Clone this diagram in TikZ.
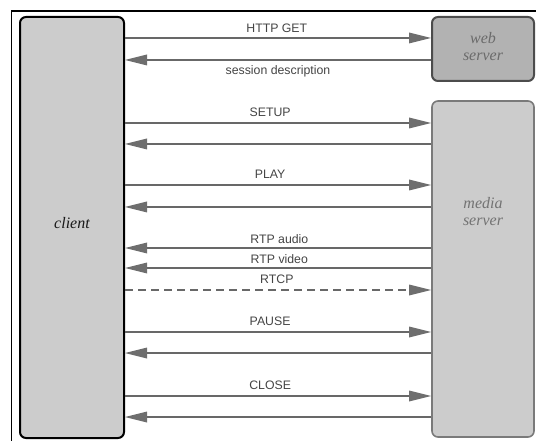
\documentclass[tikz,border=0pt]{standalone}
\usepackage{fontspec}
\setmainfont{Liberation Serif}
\setsansfont{Liberation Sans}
\usetikzlibrary{arrows.meta}
\definecolor{wire}{HTML}{686868}
\definecolor{tip}{HTML}{6E6E6E}
\definecolor{lbl}{HTML}{444444}
\begin{document}
\begin{tikzpicture}[x=1pt,y=-1pt,
  actor/.style={rounded corners=6pt, inner sep=0pt, font=\rmfamily\itshape\fontsize{16}{17}\selectfont, align=center},
  msg/.style={draw=wire, line width=2pt,
    -{Triangle[length=22pt,width=11pt,fill=tip,line width=0pt]}},
  msgtext/.style={font=\sffamily\fontsize{12.3}{14}\selectfont, text=lbl, inner sep=0pt}
]
\useasboundingbox (0,0) rectangle (536,441);
% outer frame
\draw[line width=1.5pt] (11.5,445) -- (11.5,11) -- (540,11);

% participants
\node[actor, draw=black, line width=2pt, fill=black!20,
      minimum width=104pt, minimum height=421pt] (client) at (72,227.5) {};
\node[font=\rmfamily\itshape\fontsize{16}{17}\selectfont, text=black!90] (clientlbl) at (72,223) {client};
\node[actor, draw=black!70, line width=2pt, fill=black!30,
      minimum width=102pt, minimum height=64pt] (web) at (483,49) {};
\node[actor, text=black!58] (weblbl) at (483,47) {web\\server};
\node[actor, draw=black!52, line width=1.6pt, fill=black!20,
      minimum width=102pt, minimum height=336pt] (media) at (483,269) {};
\node[actor, text=black!55] (medialbl) at (483,212) {media\\server};

% message exchange
\draw[msg] (client.east |- 0,38) -- node[msgtext, pos=0.496, above=4pt] {HTTP GET} (web.west |- 0,38);
\draw[msg] (web.west |- 0,60) -- node[msgtext, pos=0.5, below=5pt] {session description} (client.east |- 0,60);

\draw[msg] (client.east |- 0,123) -- node[msgtext, pos=0.474, above=5pt] {SETUP} (media.west |- 0,123);
\draw[msg] (media.west |- 0,144) -- (client.east |- 0,144);

\draw[msg] (client.east |- 0,185) -- node[msgtext, pos=0.474, above=5pt] {PLAY} (media.west |- 0,185);
\draw[msg] (media.west |- 0,207) -- (client.east |- 0,207);

\draw[msg] (media.west |- 0,248) -- node[msgtext, pos=0.496, above=3.5pt] {RTP audio} (client.east |- 0,248);
\draw[msg] (media.west |- 0,268) -- node[msgtext, pos=0.496, above=3.5pt] {RTP video} (client.east |- 0,268);
\draw[msg, dash pattern=on 8pt off 5pt] (client.east |- 0,290) -- node[msgtext, pos=0.496, above=5pt] {RTCP} (media.west |- 0,290);

\draw[msg] (client.east |- 0,332) -- node[msgtext, pos=0.474, above=5pt] {PAUSE} (media.west |- 0,332);
\draw[msg] (media.west |- 0,353) -- (client.east |- 0,353);

\draw[msg] (client.east |- 0,396) -- node[msgtext, pos=0.474, above=5pt] {CLOSE} (media.west |- 0,396);
\draw[msg] (media.west |- 0,417) -- (client.east |- 0,417);
\end{tikzpicture}
\end{document}
